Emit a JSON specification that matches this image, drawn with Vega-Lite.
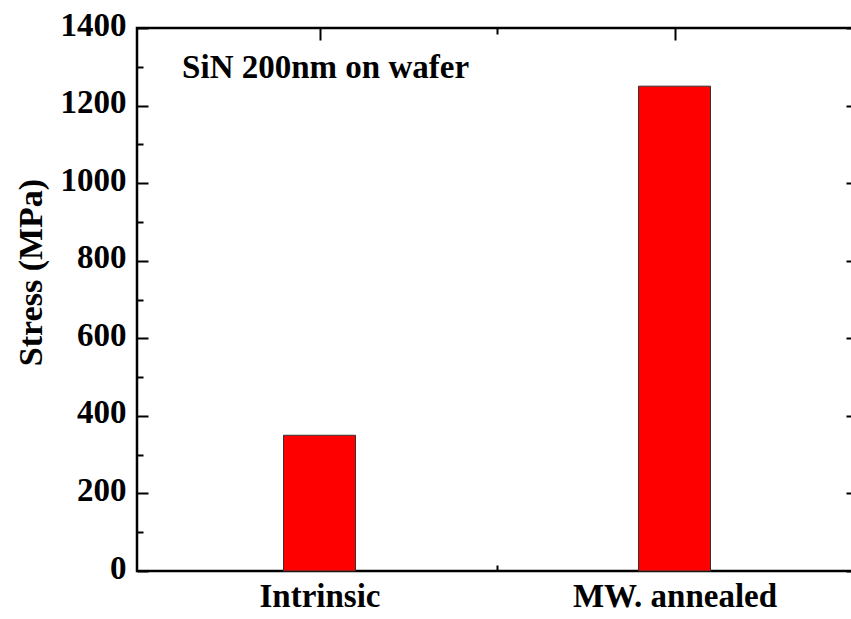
{
  "$schema": "https://vega.github.io/schema/vega-lite/v6.json",
  "autosize": "none",
  "padding": {"left": 137, "top": 28, "right": 0, "bottom": 48},
  "width": 720,
  "height": 543,
  "background": "white",
  "config": {
    "font": "Liberation Serif, Times New Roman, serif",
    "view": {"stroke": "black", "strokeWidth": 2.5},
    "axis": {
      "domain": false,
      "grid": false,
      "labelFont": "Liberation Serif, Times New Roman, serif",
      "labelFontWeight": "bold",
      "labelFontSize": 33,
      "labelColor": "black",
      "labelLimit": 0,
      "labelOverlap": false,
      "titleFont": "Liberation Serif, Times New Roman, serif",
      "titleFontWeight": "bold",
      "titleFontSize": 34,
      "titleColor": "black",
      "tickColor": "black",
      "tickWidth": 2
    }
  },
  "datasets": {
    "bars": [
      {"sample": "Intrinsic", "pos": 1, "stress": 350},
      {"sample": "MW. annealed", "pos": 2, "stress": 1250}
    ],
    "note": [
      {"pos": 0.613, "stress": 1271, "label": "SiN 200nm on wafer"}
    ]
  },
  "layer": [
    {
      "data": {"name": "bars"},
      "mark": {"type": "bar", "width": 72, "color": "#ff0000", "stroke": "#333333", "strokeWidth": 1},
      "encoding": {
        "x": {
          "field": "pos", "type": "quantitative",
          "scale": {"domain": [0.5, 2.5], "nice": false, "zero": false},
          "axis": {"orient": "bottom", "values": [1, 2], "tickSize": -12, "labelPadding": 21,
                   "labelExpr": "datum.value == 1 ? 'Intrinsic' : (datum.value == 2 ? 'MW. annealed' : '')",
                   "labelBaseline": "top", "title": null}
        },
        "y": {
          "field": "stress", "type": "quantitative",
          "scale": {"domain": [0, 1400], "nice": false},
          "axis": {"orient": "left", "values": [0, 200, 400, 600, 800, 1000, 1200, 1400], "tickSize": -11,
                   "format": "d", "labelPadding": 22, "labelBaseline": "middle", "labelOffset": -3,
                   "title": "Stress (MPa)", "titleAngle": -90,
                   "titleX": -96, "titleY": 244, "titleAlign": "center", "titleBaseline": "alphabetic"}
        }
      }
    },
    {
      "data": {"name": "note"},
      "mark": {"type": "text", "align": "left", "baseline": "alphabetic", "font": "Liberation Serif, Times New Roman, serif",
               "fontWeight": "bold", "fontSize": 33, "color": "black"},
      "encoding": {
        "x": {"field": "pos", "type": "quantitative",
              "scale": {"domain": [0.5, 2.5], "nice": false, "zero": false},
              "axis": {"orient": "top", "values": [1, 2], "tickSize": -12, "labels": false, "title": null}},
        "y": {"field": "stress", "type": "quantitative",
              "scale": {"domain": [0, 1400], "nice": false},
              "axis": {"orient": "right", "values": [0, 200, 400, 600, 800, 1000, 1200, 1400], "tickSize": -11, "labels": false, "title": null}},
        "text": {"field": "label"}
      }
    },
    {
      "data": {"name": "bars"},
      "mark": {"type": "point", "opacity": 0},
      "encoding": {
        "x": {"field": "pos", "type": "quantitative",
              "scale": {"domain": [0.5, 2.5], "nice": false, "zero": false},
              "axis": {"orient": "bottom", "values": [1.5, 2.5], "tickSize": -6, "labels": false, "title": null}},
        "y": {"field": "stress", "type": "quantitative",
              "scale": {"domain": [0, 1400], "nice": false},
              "axis": {"orient": "left", "values": [100, 300, 500, 700, 900, 1100, 1300], "tickSize": -6, "labels": false, "title": null}}
      }
    },
    {
      "data": {"name": "bars"},
      "mark": {"type": "point", "opacity": 0},
      "encoding": {
        "x": {"field": "pos", "type": "quantitative",
              "scale": {"domain": [0.5, 2.5], "nice": false, "zero": false},
              "axis": {"orient": "top", "values": [1.5, 2.5], "tickSize": -6, "labels": false, "title": null}},
        "y": {"field": "stress", "type": "quantitative",
              "scale": {"domain": [0, 1400], "nice": false},
              "axis": {"orient": "right", "values": [100, 300, 500, 700, 900, 1100, 1300], "tickSize": -6, "labels": false, "title": null}}
      }
    }
  ],
  "resolve": {"axis": {"x": "independent", "y": "independent"}}
}
